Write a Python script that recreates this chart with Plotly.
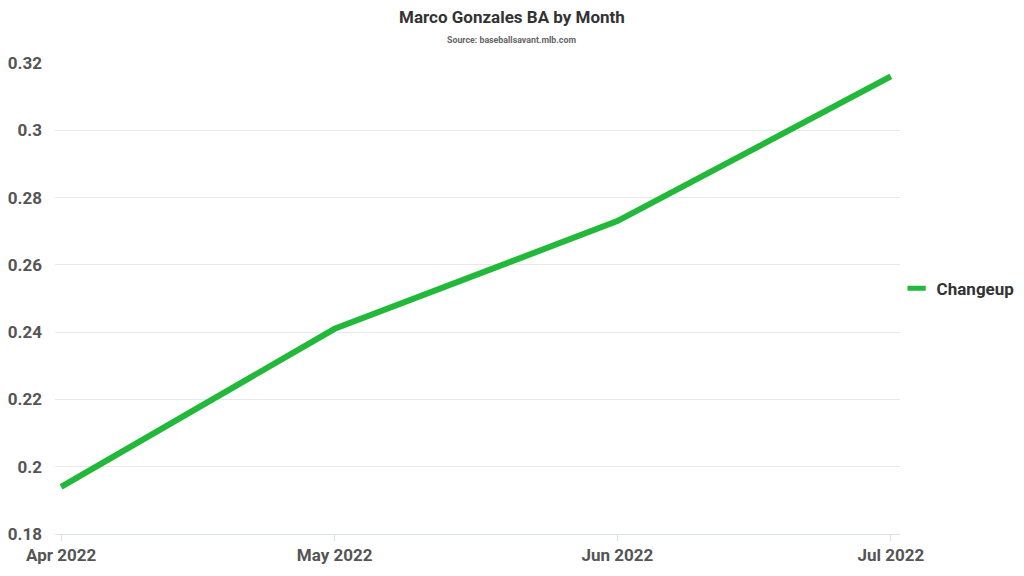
import plotly.graph_objects as go

months = ["2022-04-01", "2022-05-01", "2022-06-01", "2022-07-01"]
month_labels = ["Apr 2022", "May 2022", "Jun 2022", "Jul 2022"]
changeup_ba = [0.194, 0.241, 0.273, 0.316]
y_ticks = [0.18, 0.2, 0.22, 0.24, 0.26, 0.28, 0.3, 0.32]
y_tick_text = ["0.18", "0.2", "0.22", "0.24", "0.26", "0.28", "0.3", "0.32"]

GREEN = "#22b83a"

fig = go.Figure()
fig.add_trace(go.Scatter(
    name="Changeup", x=months, y=changeup_ba, mode="lines",
    line=dict(color=GREEN, width=6), showlegend=False,
))
# legend entry only: a short thick dash like the reference
fig.add_trace(go.Scatter(
    name="Changeup", x=[None], y=[None], mode="markers",
    marker=dict(symbol="line-ew", size=13, color=GREEN, line=dict(color=GREEN, width=6)),
    showlegend=True,
))

# title and source line, centred on the whole page rather than the plot area
fig.add_annotation(
    text="<b>Marco Gonzales BA by Month</b>", xref="paper", yref="paper",
    x=0.5408, y=1, yshift=46, xanchor="center", yanchor="middle", showarrow=False,
    font=dict(size=17, color="#333333"),
)
fig.add_annotation(
    text="<b>Source: baseballsavant.mlb.com</b>", xref="paper", yref="paper",
    x=0.5408, y=1, yshift=23, xanchor="center", yanchor="middle", showarrow=False,
    font=dict(size=8.8, color="#666666"),
)

# page body has an 8px margin: figure sized to fit the window without scrollbars
fig.update_layout(
    width=1008, height=560,
    margin=dict(l=47, r=116, t=55, b=34, autoexpand=False),
    paper_bgcolor="white", plot_bgcolor="white",
    font=dict(family="Roboto", color="#555555"),
    legend=dict(
        x=0.996, xanchor="left", y=0.521, yanchor="middle",
        font=dict(size=17, color="#333333", weight="bold"),
    ),
    xaxis=dict(
        type="date", range=["2022-03-31 08:00", "2022-07-02"],
        tickvals=months, ticktext=month_labels, automargin=False,
        tickfont=dict(size=17, color="#555555", weight="bold"),
        showgrid=False, showline=True, linecolor="#d8e4ea", linewidth=1,
        ticks="outside", ticklen=6, tickcolor="#d8e4ea",
    ),
    yaxis=dict(
        range=[0.18, 0.32], tickvals=y_ticks, ticktext=y_tick_text,
        automargin=False,
        tickfont=dict(size=17, color="#555555", weight="bold"),
        showgrid=True, gridcolor="#e8e8e8", zeroline=False,
        ticks="", ticklabelstandoff=12,
    ),
)

fig.write_html("out.html")
